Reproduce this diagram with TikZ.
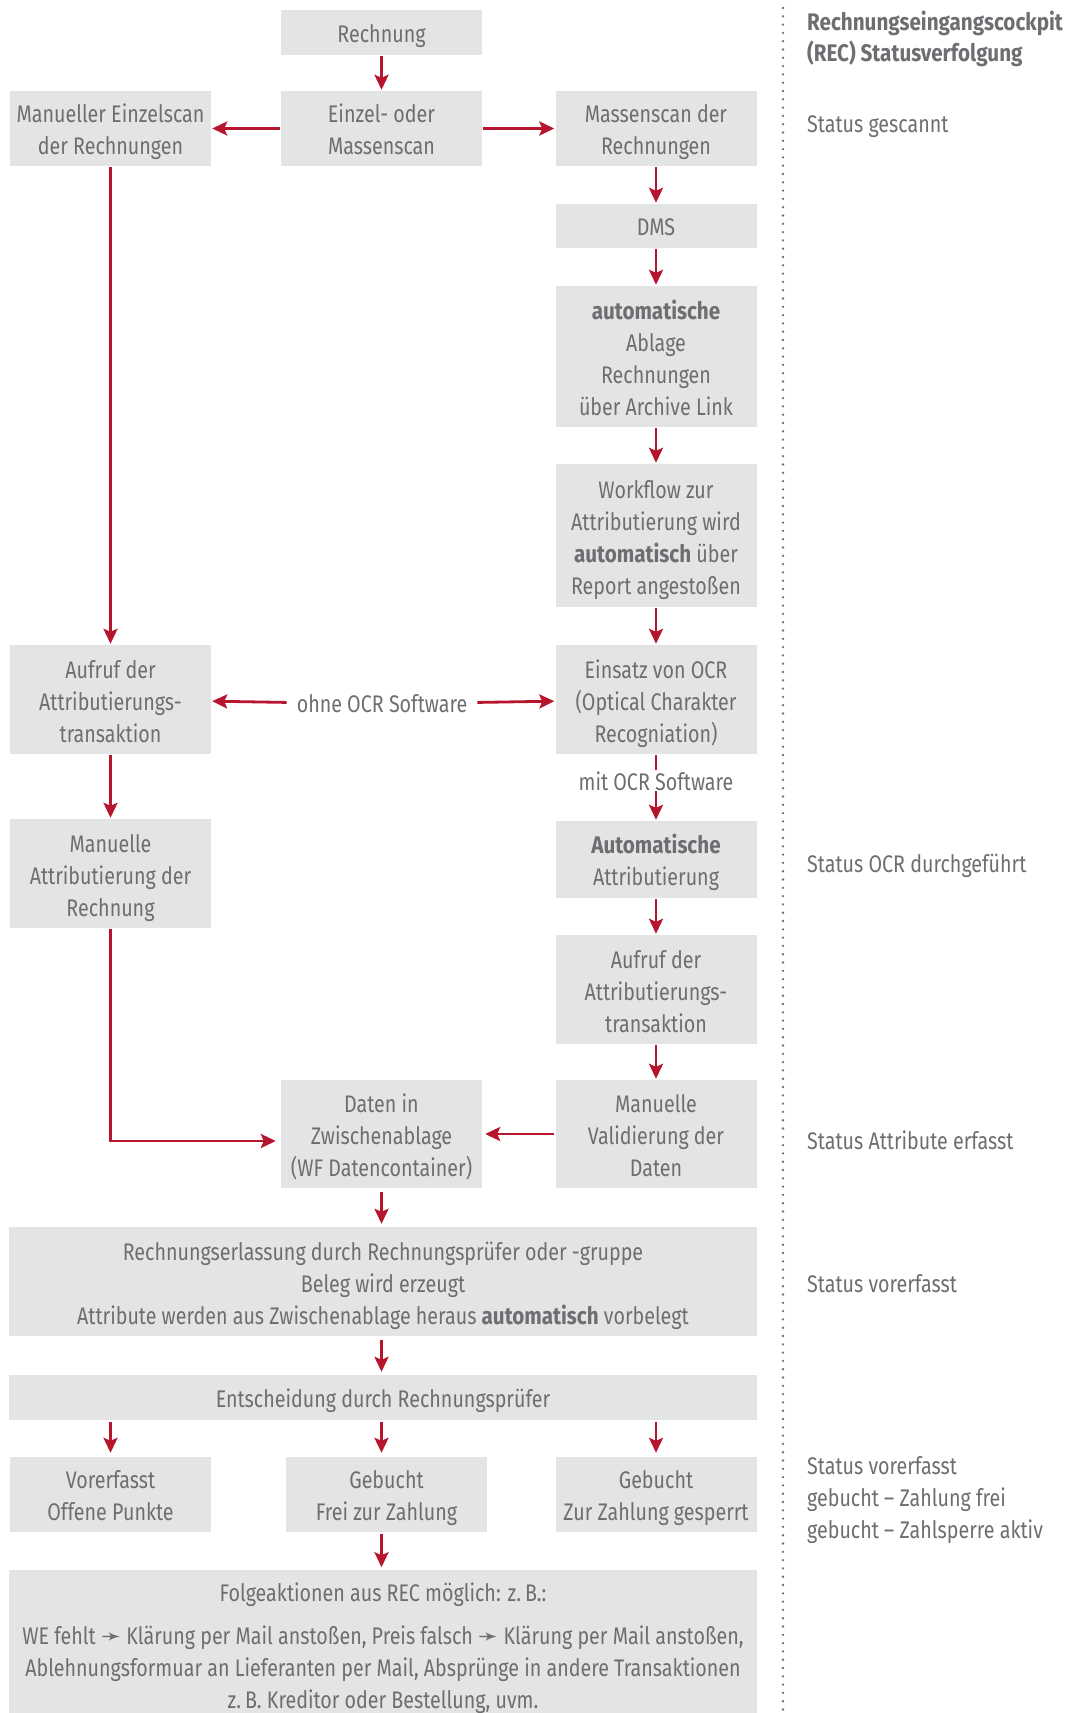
\documentclass[tikz,border=0pt]{standalone}
\usepackage{fontspec}
\setmainfont{Fira Sans}[FakeStretch=0.82, BoldFeatures={FakeStretch=0.86}]
\newfontfamily\arrowfont{DejaVu Sans}
\usetikzlibrary{arrows.meta}
\definecolor{boxgray}{RGB}{227,228,228}
\definecolor{textgray}{RGB}{109,110,113}
\definecolor{recred}{RGB}{183,20,46}
\newcommand{\pfeil}{{\arrowfont\symbol{"279B}}}

\begin{document}
\begin{tikzpicture}[x=1pt, y=-1pt,
		font=\fontsize{24}{32}\selectfont,
		box/.style={fill=boxgray, text=textgray, align=center, inner sep=0pt, minimum width=201pt,
			execute at begin node={\rule{0pt}{\dimexpr33pt*#1-8pt\relax}}, execute at end node={\vphantom{g}}},
		box/.default=1,
		lbl/.style={text=textgray, inner sep=3pt},
		stat/.style={text=textgray, anchor=west, align=left, inner sep=0pt},
		arr/.style={draw=recred, line width=2.8pt, -{Stealth[length=15pt,width=14pt,inset=3pt]}, shorten <=1pt, shorten >=1pt}]
		\fill[white] (0,0) rectangle (1078,1713);
		\useasboundingbox (0,0) rectangle (1078,1713);

		% Draw the boxes of the flow
		\node[box=1, minimum height=45pt] (rechnung) at (381.5,32.5) {Rechnung};
		\node[box=2, minimum height=75pt] (einzel) at (381.5,128.5) {Einzel- oder\\Massenscan};
		\node[box=2, minimum height=75pt] (manuell) at (110.5,128.5) {Manueller Einzelscan\\der Rechnungen};
		\node[box=2, minimum height=75pt] (massen) at (656,128.5) {Massenscan der\\Rechnungen};
		\node[box=1, minimum height=44pt] (dms) at (656,226) {DMS};
		\node[box=4, minimum height=141pt] (ablage) at (656,356.5) {\textbf{automatische}\\Ablage\\Rechnungen\\über Archive Link};
		\node[box=4, minimum height=143pt] (workflow) at (656,535.5) {Workflow zur\\Attributierung wird\\\textbf{automatisch} über\\Report angestoßen};
		\node[box=3, minimum height=109pt] (aufrufL) at (110.5,699.5) {Aufruf der\\Attributierungs-\\transaktion};
		\node[box=3, minimum height=109pt] (ocr) at (656,699.5) {Einsatz von OCR\\(Optical Charakter\\Recogniation)};
		\node[lbl, inner xsep=9pt] (ohne) at (382,704) {ohne OCR Software};
		\node[box=3, minimum height=109pt] (manattr) at (110.5,873.5) {Manuelle\\Attributierung der\\Rechnung};
		\node[box=2, minimum height=77pt] (autoattr) at (656,859.5) {\textbf{Automatische}\\Attributierung};
		\node[box=3, minimum height=109pt] (aufrufR) at (656,989.5) {Aufruf der\\Attributierungs-\\transaktion};
		\node[box=3, minimum height=108pt] (daten) at (381.5,1134) {Daten in\\Zwischenablage\\(WF Datencontainer)};
		\node[box=3, minimum height=108pt] (valid) at (656,1134) {Manuelle\\Validierung der\\Daten};
		\node[box=3, minimum width=748pt, minimum height=109pt] (erlass) at (383,1281.5) {Rechnungserlassung durch Rechnungsprüfer oder -gruppe\\Beleg wird erzeugt\\Attribute werden aus Zwischenablage heraus \textbf{automatisch} vorbelegt};
		\node[box=1, minimum width=748pt, minimum height=45pt] (entsch) at (383,1397.5) {Entscheidung durch Rechnungsprüfer};
		\node[box=2, minimum height=75pt] (vorerf) at (110.5,1494.5) {Vorerfasst\\Offene Punkte};
		\node[box=2, minimum height=75pt] (gebfrei) at (386.5,1494.5) {Gebucht\\Frei zur Zahlung};
		\node[box=2, minimum height=75pt] (gebsperr) at (656,1494.5) {Gebucht\\Zur Zahlung gesperrt};
		\node[box, minimum width=748pt, minimum height=142pt, execute at begin node={\rule{0pt}{138pt}}] (folge) at (383,1642) {Folgeaktionen aus REC möglich: z.\,B.:\\[11pt]WE fehlt \pfeil{} Klärung per Mail anstoßen, Preis falsch \pfeil{} Klärung per Mail anstoßen,\\Ablehnungsformuar an Lieferanten per Mail, Absprünge in andere Transaktionen\\z.\,B. Kreditor oder Bestellung, uvm.};

		% Draw the arrows
		\draw[arr] (rechnung) -- (einzel);
		\draw[arr] (einzel) -- (manuell);
		\draw[arr] (einzel) -- (massen);
		\draw[arr] (massen) -- (dms);
		\draw[arr] (dms) -- (ablage);
		\draw[arr] (ablage) -- (workflow);
		\draw[arr] (workflow) -- (ocr);
		\draw[arr] (manuell) -- (aufrufL);
		\draw[arr] (ohne) -- (aufrufL);
		\draw[arr] (ohne) -- (ocr);
		\draw[arr] (ocr) -- (autoattr) node[lbl, pos=0.40, fill=white, inner sep=1pt] (mit) {mit OCR Software};
		\draw[arr] (aufrufL) -- (manattr);
		\draw[arr] (autoattr) -- (aufrufR);
		\draw[arr] (aufrufR) -- (valid);
		\draw[arr, shorten >=5pt] (manattr.south) |- ([yshift=-7pt]daten.west);
		\draw[arr, shorten >=3pt] (valid) -- (daten);
		\draw[arr, shorten <=4pt, shorten >=3pt] (daten.south) -- (daten.south |- erlass.north);
		\draw[arr, shorten <=4pt, shorten >=3pt] (erlass.south -| daten.south) -- (entsch.north -| daten.south);
		\draw[arr, shorten <=2pt, shorten >=4pt] (entsch.south -| vorerf.north) -- (vorerf.north);
		\draw[arr, shorten <=2pt, shorten >=4pt] (entsch.south -| daten.south) -- (gebfrei.north -| daten.south);
		\draw[arr, shorten <=2pt, shorten >=4pt] (entsch.south -| gebsperr.north) -- (gebsperr.north);
		\draw[arr, shorten <=2pt, shorten >=3pt] (gebfrei.south -| daten.south) -- (folge.north -| daten.south);

		% Draw the status column
		\draw[textgray, line width=2.6pt, line cap=round, dash pattern=on 0pt off 8.3pt] (783,8) -- (783,1713);
		\node[stat, font=\fontsize{24}{31}\selectfont\bfseries] (titel) at (807,38.5) {Rechnungseingangscockpit\\(REC) Statusverfolgung};
		\node[stat] (s1) at (807,126.5) {Status gescannt};
		\node[stat] (s2) at (807,866) {Status OCR durchgeführt};
		\node[stat] (s3) at (807,1140) {Status Attribute erfasst};
		\node[stat] (s4) at (807,1284) {Status vorerfasst};
		\node[stat] (s5) at (807,1500) {Status vorerfasst\\gebucht -- Zahlung frei\\gebucht -- Zahlsperre aktiv};
	\end{tikzpicture}
\end{document}
